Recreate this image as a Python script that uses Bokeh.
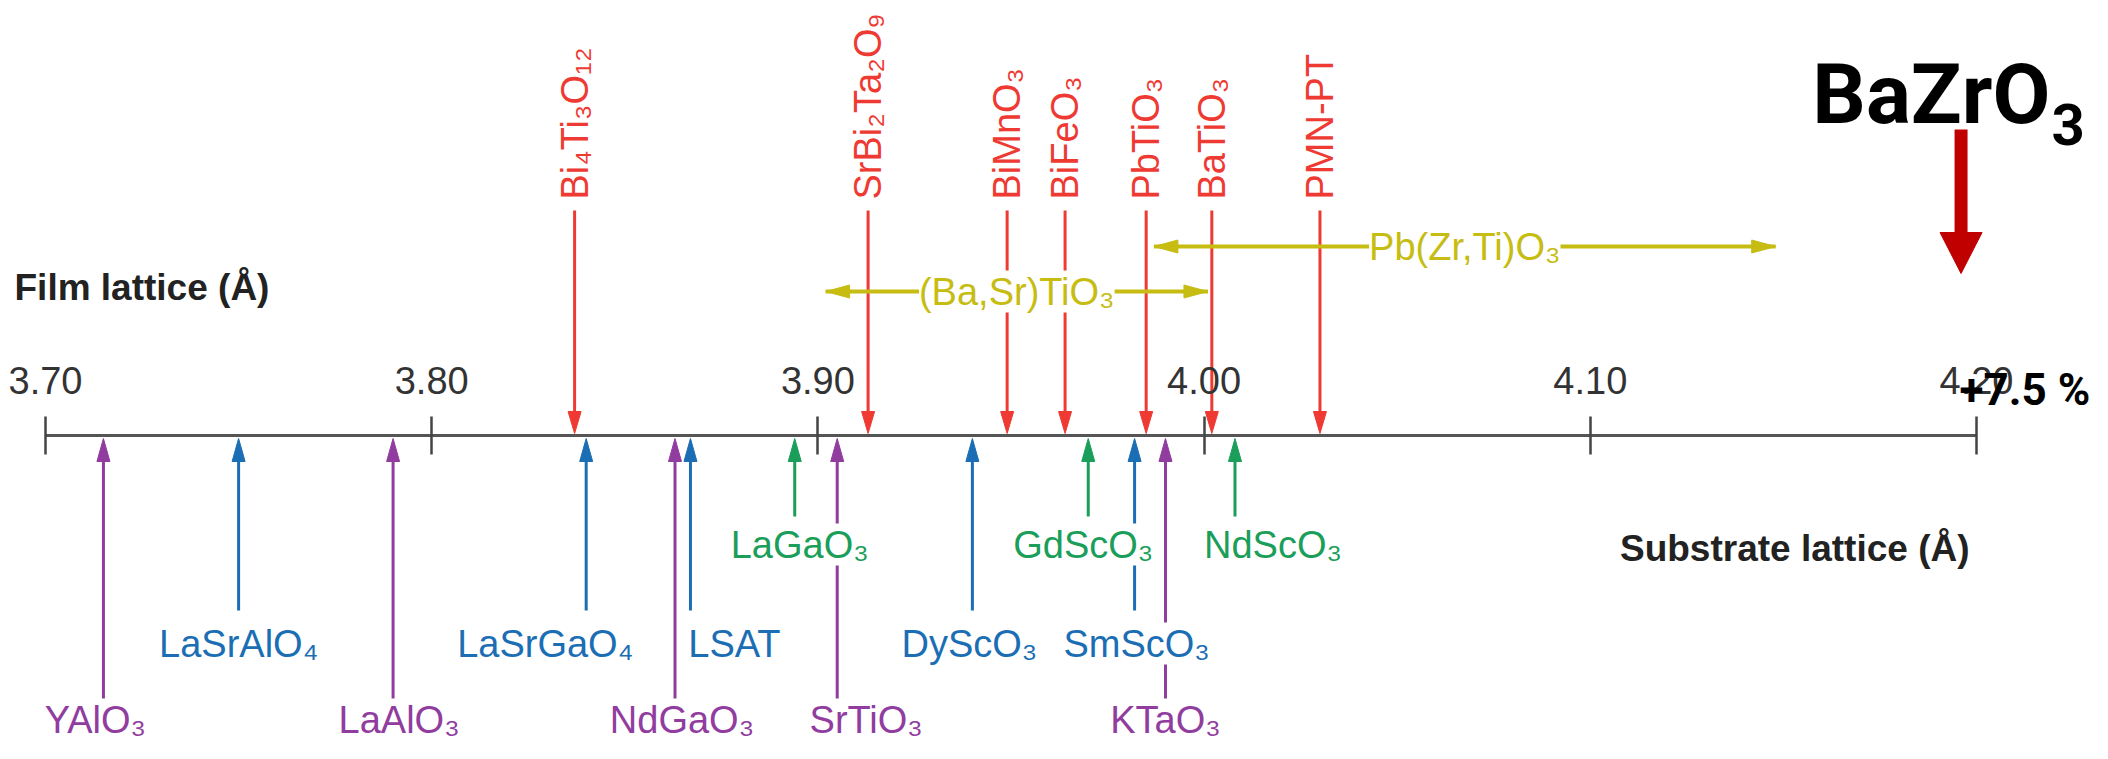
import numpy as np
from bokeh.plotting import figure
from bokeh.models import (ColumnDataSource, LabelSet, Label, LinearAxis, FixedTicker,
                          PrintfTickFormatter, Range1d)
from bokeh.core.properties import value
from bokeh.embed import file_html
from bokeh.resources import INLINE

# ---------------- data ----------------
film_names = ["Bi₄Ti₃O₁₂", "SrBi₂Ta₂O₉", "BiMnO₃", "BiFeO₃", "PbTiO₃", "BaTiO₃", "PMN-PT"]
film_lattice = [3.837, 3.913, 3.949, 3.964, 3.985, 4.002, 4.030]

purple_names = ["YAlO₃", "LaAlO₃", "NdGaO₃", "SrTiO₃", "KTaO₃"]
purple_lattice = [3.715, 3.790, 3.863, 3.905, 3.990]

blue_names = ["LaSrAlO₄", "LaSrGaO₄", "LSAT", "DyScO₃", "SmScO₃"]
blue_lattice = [3.750, 3.840, 3.867, 3.940, 3.982]

green_names = ["LaGaO₃", "GdScO₃", "NdScO₃"]
green_lattice = [3.894, 3.970, 4.008]

range_names = ["(Ba,Sr)TiO₃", "Pb(Zr,Ti)O₃"]
range_start = [3.902, 3.987]
range_end = [4.001, 4.148]

target_formula = "BaZrO"
target_subscript = "3"
target_lattice = 4.196
target_strain = "+7.5 %"

tick_values = [3.70, 3.80, 3.90, 4.00, 4.10, 4.20]

# ---------------- layout / style ----------------
W, H = 2092, 743
PX_PER_A = 3862.0
X_START = 3.70 - (53 - 8) / PX_PER_A
X_END = X_START + W / PX_PER_A

def Y(py):          # reference pixel row -> data y
    return H - (py - 8)

def XP(px):         # reference pixel column -> data x
    return X_START + (px - 8) / PX_PER_A

def DX(px):         # pixel width -> data width
    return px / PX_PER_A

AXIS_ROW = 443
FONT = "Liberation Sans"
RED = "#EE3A33"
PURPLE = "#913C9F"
BLUE = "#1B6EB4"
GREEN = "#1A9E5A"
YELLOW = "#C6BC12"
DARKRED = "#C00000"

has_padding = "padding" in LabelSet.properties()

p = figure(width=W, height=H, x_range=Range1d(X_START, X_END), y_range=Range1d(0, H),
           x_axis_type=None, y_axis_type=None, toolbar_location=None,
           output_backend="svg", min_border=0, outline_line_color=None,
           background_fill_color="white", border_fill_color="white")
p.grid.grid_line_color = None

# ---------------- axis ----------------
ax = LinearAxis(fixed_location=Y(AXIS_ROW), ticker=FixedTicker(ticks=tick_values),
                formatter=PrintfTickFormatter(format="%.2f"), bounds=(3.70, 4.20))
ax.axis_line_color = "#555555"
ax.axis_line_width = 3
ax.major_tick_line_color = "#444444"
ax.major_tick_line_width = 2.5
ax.major_tick_in = 19
ax.major_tick_out = 19
ax.minor_tick_line_color = None
ax.major_label_text_font = FONT
ax.major_label_text_font_size = "38px"
ax.major_label_text_color = "#333333"
ax.major_label_standoff = 23
if "major_label_background_fill_color" in LinearAxis.properties():
    ax.major_label_background_fill_color = "white"

# ---------------- film arrows (down) ----------------
HW = 6.5
src_f = ColumnDataSource(dict(x=film_lattice, name=film_names))
p.segment(x0="x", y0=Y(218), x1="x", y1=Y(425), source=src_f, line_color=RED, line_width=3)
p.patches(xs=[[a - DX(HW), a, a + DX(HW)] for a in film_lattice],
          ys=[[Y(AXIS_ROW - 24), Y(AXIS_ROW - 2), Y(AXIS_ROW - 24)] for _ in film_lattice],
          fill_color=RED, line_color=RED, line_width=1)
p.add_layout(ax, "above")
p.add_layout(LabelSet(x="x", y=Y(207), text="name", source=src_f, angle=np.pi / 2,
                      text_align="left", text_baseline="middle", text_font=value(FONT),
                      text_font_size="38px", text_color=RED))

# ---------------- substrate arrows (up) ----------------
groups = [
    (purple_names, purple_lattice, PURPLE, 706, 727, [-8, 6, 7, 29, 0], False),
    (blue_names, blue_lattice, BLUE, 618, 651, [0, -41, 44, -3, 2], True),
    (green_names, green_lattice, GREEN, 524, 552, [5, -5, 38], True),
]
for names, latt, col, bottom, row, shift, boxed in groups:
    src = ColumnDataSource(dict(x=latt, name=names,
                                lx=[a + DX(s) for a, s in zip(latt, shift)]))
    p.segment(x0="x", y0=Y(AXIS_ROW + 20), x1="x", y1=Y(bottom), source=src,
              line_color=col, line_width=3)
    p.patches(xs=[[a - DX(HW), a, a + DX(HW)] for a in latt],
              ys=[[Y(AXIS_ROW + 26), Y(AXIS_ROW + 3), Y(AXIS_ROW + 26)] for _ in latt],
              fill_color=col, line_color=col, line_width=1)
    kw = {}
    if boxed:
        kw["background_fill_color"] = "white"
        if has_padding:
            kw["padding"] = 4
    p.add_layout(LabelSet(x="lx", y=Y(row), text="name", source=src,
                          text_align="center", text_baseline="middle",
                          text_font=value(FONT), text_font_size="38px", text_color=col, **kw))

# ---------------- ranges (double arrows) ----------------
r_rows = [Y(299), Y(254)]
src_r = ColumnDataSource(dict(x0=range_start, x1=range_end, y=r_rows, name=range_names,
                              mid=[(a + b) / 2 for a, b in zip(range_start, range_end)]))
p.segment(x0="x0", y0="y", x1="x1", y1="y", source=src_r, line_color=YELLOW, line_width=4)
hx, hy = [], []
for a, b, y in zip(range_start, range_end, r_rows):
    hx.append([a, a + DX(24), a + DX(24)]); hy.append([y, y + 6.5, y - 6.5])
    hx.append([b, b - DX(24), b - DX(24)]); hy.append([y, y + 6.5, y - 6.5])
p.patches(xs=hx, ys=hy, fill_color=YELLOW, line_color=YELLOW, line_width=1)
kw = dict(padding=7) if has_padding else {}
p.add_layout(LabelSet(x="mid", y="y", text="name", source=src_r, text_align="center",
                      text_baseline="middle", text_font=value(FONT), text_font_size="38px",
                      text_color=YELLOW, background_fill_color="white", **kw))

# ---------------- BaZrO3 target ----------------
p.segment(x0=[target_lattice], y0=[Y(137)], x1=[target_lattice], y1=[Y(242)],
          line_color=DARKRED, line_width=13, line_cap="butt")
p.patches(xs=[[target_lattice - DX(21), target_lattice, target_lattice + DX(21)]],
          ys=[[Y(240), Y(281), Y(240)]], fill_color=DARKRED, line_color=DARKRED)

p.add_layout(Label(x=XP(2058), y=Y(102), text=target_formula, text_align="right",
                   text_baseline="middle", text_font="Roboto", text_font_style="bold",
                   text_font_size="84px", text_color="black"))
p.add_layout(Label(x=XP(2059), y=Y(132), text=target_subscript, text_align="left",
                   text_baseline="middle", text_font="Roboto", text_font_style="bold",
                   text_font_size="58px", text_color="black"))
p.add_layout(Label(x=XP(1967), y=Y(397), text=target_strain, text_align="left",
                   text_baseline="middle", text_font="Roboto", text_font_style="bold",
                   text_font_size="44px", text_color="black"))

# ---------------- axis titles ----------------
p.add_layout(Label(x=XP(22), y=Y(295), text="Film lattice (Å)", text_align="left",
                   text_baseline="middle", text_font=FONT, text_font_style="bold",
                   text_font_size="37px", text_color="#222222"))
p.add_layout(Label(x=XP(1977), y=Y(556), text="Substrate lattice (Å)", text_align="right",
                   text_baseline="middle", text_font=FONT, text_font_style="bold",
                   text_font_size="37px", text_color="#222222"))

open("out.html", "w").write(file_html(p, INLINE))
